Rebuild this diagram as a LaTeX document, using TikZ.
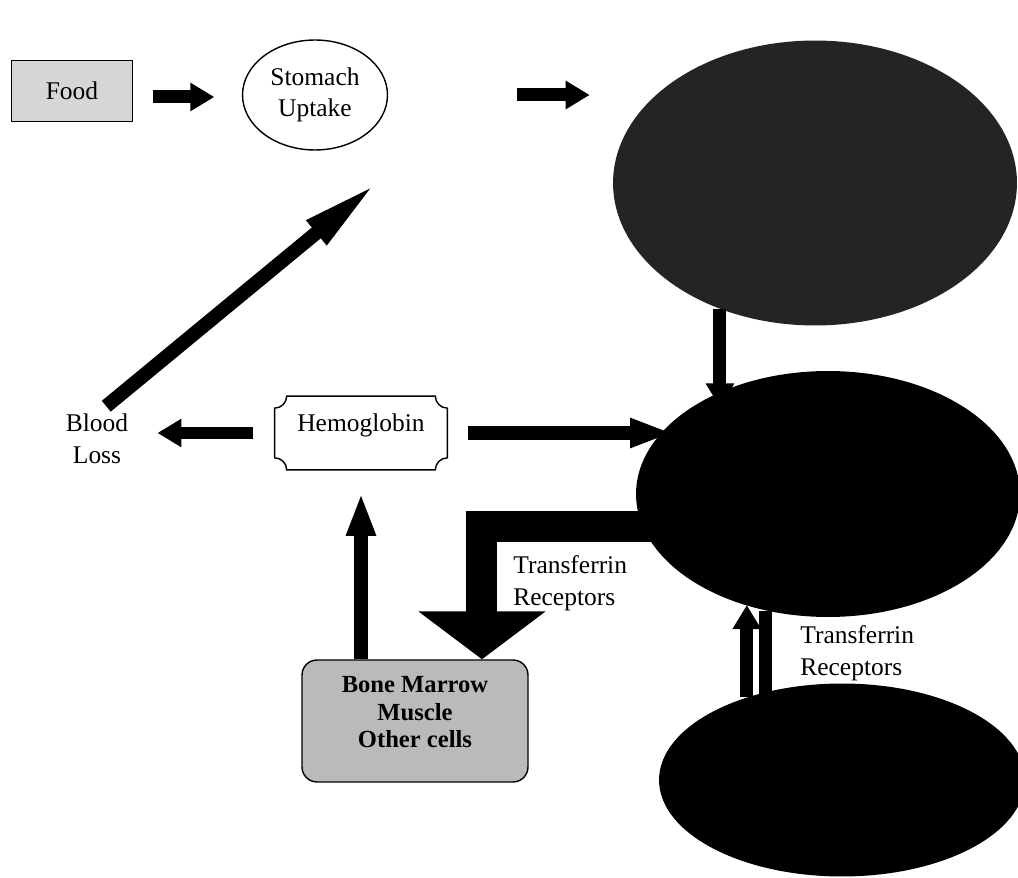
\documentclass[tikz,border=0pt]{standalone}
\usepackage{fontspec}
\setmainfont{Liberation Serif}
\usetikzlibrary{positioning,shapes.geometric,arrows.meta,calc}
\definecolor{foodGray}{RGB}{214,214,214}
\definecolor{marrowGray}{RGB}{186,186,186}
\definecolor{storeGray}{RGB}{36,36,36}
\tikzstyle{diagram} = [x = .02cm, y = -.02cm]
\tikzstyle{plainText} = [font=\fontsize{14.5}{18}\selectfont, align=center, inner sep=0pt]
\tikzstyle{foodBox} = [plainText, draw, line width=.7pt, fill=foodGray, minimum width=2.42cm, minimum height=1.22cm]
\tikzstyle{pool} = [ellipse, fill=black, inner sep=0pt]
\tikzstyle{fatArrow} = [line width=.26cm, -{Triangle[width=.54cm, length=.48cm]}]
\tikzstyle{longArrow} = [line width=.28cm, -{Triangle[width=.54cm, length=.86cm]}]
\tikzstyle{spearArrow} = [line width=.28cm, -{Triangle[width=.56cm, length=1.6cm]}]
\tikzstyle{bentArrow} = [line width=.62cm, line join=miter, -{Triangle[width=2.5cm, length=.96cm]}]
\newcommand{\concaveFrame}[2]{
  \draw [line width=.8pt] ($(#1.north west)+(#2,0)$) -- ($(#1.north east)+(-#2,0)$)
    .. controls ($(#1.north east)+(-#2,.55*#2)$) and ($(#1.north east)+(-.55*#2,#2)$) .. ($(#1.north east)+(0,#2)$)
    -- ($(#1.south east)+(0,-#2)$)
    .. controls ($(#1.south east)+(-.55*#2,-#2)$) and ($(#1.south east)+(-#2,-.55*#2)$) .. ($(#1.south east)+(-#2,0)$)
    -- ($(#1.south west)+(#2,0)$)
    .. controls ($(#1.south west)+(#2,-.55*#2)$) and ($(#1.south west)+(.55*#2,-#2)$) .. ($(#1.south west)+(0,-#2)$)
    -- ($(#1.north west)+(0,#2)$)
    .. controls ($(#1.north west)+(.55*#2,#2)$) and ($(#1.north west)+(#2,.55*#2)$) .. cycle;
}
\begin{document}
\begin{tikzpicture}[diagram]
    \useasboundingbox (0,0) rectangle (1018,878);
    % top row
    \node [foodBox] (food) at (72,91) {Food};
    \node [plainText, ellipse, draw, line width=.8pt, minimum width=2.9cm, minimum height=2.2cm] (stomach) at (315,95) {Stomach\\Uptake};
    \node [pool, fill=storeGray, minimum width=8.08cm, minimum height=5.7cm] (stores) at (815,183) {};
    % right column
    \node [pool, minimum width=7.68cm, minimum height=4.92cm] (plasma) at (828,494) {};
    \node [pool, minimum width=7.32cm, minimum height=3.86cm] (cells) at (842,780) {};
    % left part
    \node [plainText, minimum width=3.44cm, text height=.7cm, text depth=.76cm] (hemo) at (361,433) {Hemoglobin};
    \concaveFrame{hemo}{12}
    \node [plainText] (blood) at (97,439) {Blood\\Loss};
    \node [plainText, draw, line width=.8pt, rounded corners=.3cm, fill=marrowGray, minimum width=4.52cm, minimum height=2.44cm, text depth=.36cm, font=\bfseries\fontsize{14}{15.5}\selectfont] (marrow) at (415,721) {Bone Marrow\\Muscle\\Other cells};
    \node [plainText, anchor=west, align=left] (trLeft) at (513,583) {Transferrin\\Receptors};
    \node [plainText, anchor=west, align=left] (trRight) at (800,653) {Transferrin\\Receptors};
    \coordinate (lossTip) at (378,182);
    % arrows
    \draw [fatArrow, shorten <=.39cm, shorten >=.55cm] ([yshift=-.12cm]food.east) -- ([yshift=-.12cm]food.east -| stomach.west);
    \draw [fatArrow, shorten <=2.57cm, shorten >=.46cm] (stomach.east) -- (stomach.east -| stores.west);
    \draw [fatArrow, shorten >=-.3cm] (stores.233) -- (stores.233 |- plasma.137);
    \draw [fatArrow, shorten <=.44cm, shorten >=.58cm] (hemo.west) -- (hemo.west -| blood.east);
    \draw [longArrow, shorten <=.42cm, shorten >=3.1cm] (hemo.east) -- (hemo.east -| plasma.center);
    \draw [spearArrow, shorten <=.24cm] (blood.north) -- (lossTip);
    \draw [longArrow, shorten >=.46cm] (hemo.south |- marrow.north) -- (hemo.south);
    \draw [bentArrow] ([xshift=.8cm]plasma.190) -| ([xshift=1.34cm]marrow.north);
    \draw [fatArrow] (cells.139) -- (cells.139 |- plasma.233);
    \draw [fatArrow, shorten >=-.7cm] (plasma.242) -- (plasma.242 |- cells.132);
\end{tikzpicture}
\end{document}
